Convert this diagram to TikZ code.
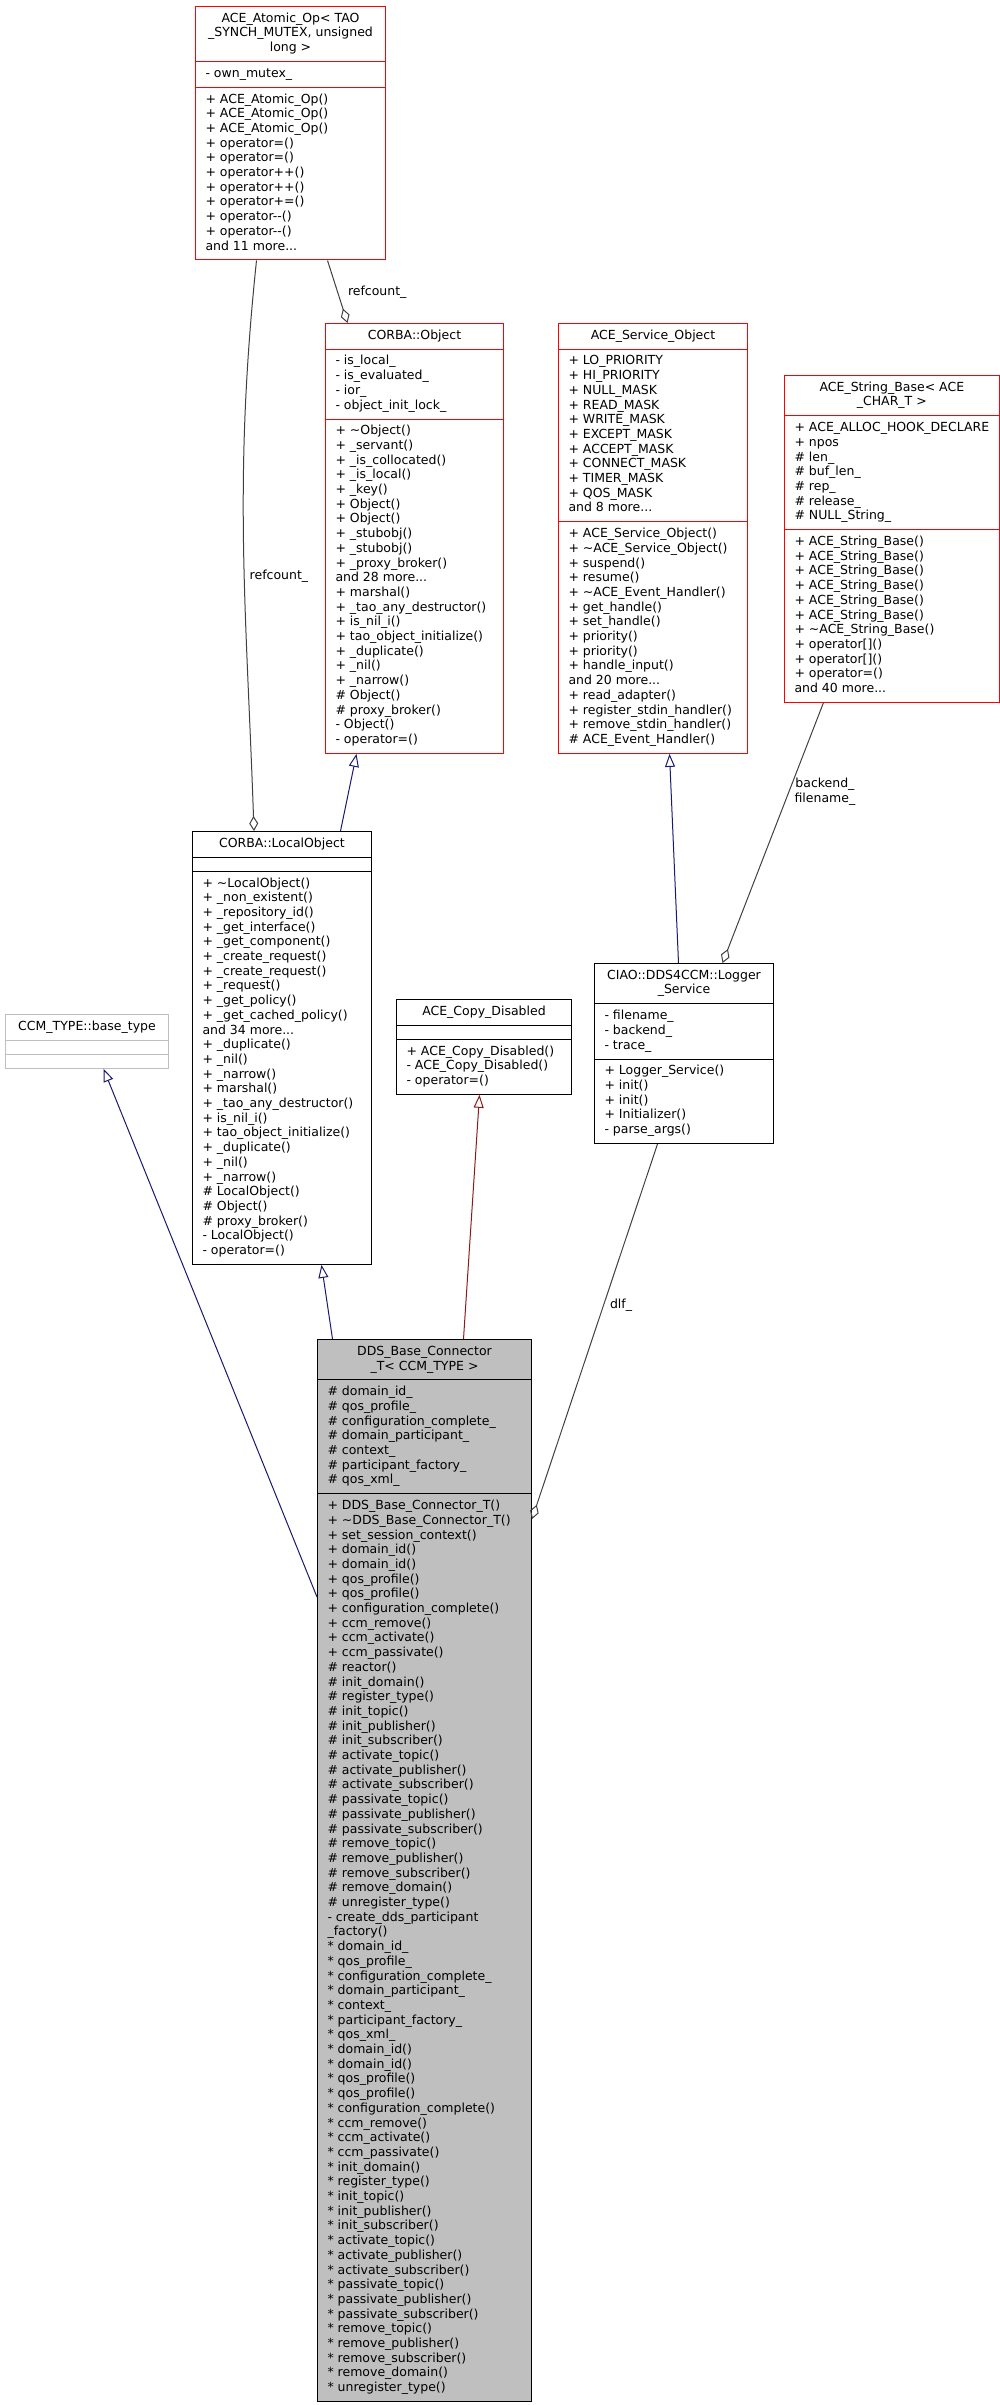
\documentclass[tikz,border=0pt]{standalone}
\usepackage{fontspec}
\setmainfont{DejaVu Sans}
\usepackage{xcolor}
\usepackage{tikz}
\usetikzlibrary{shapes.multipart,arrows.meta}
\definecolor{dxnavy}{HTML}{191970}
\definecolor{dxfire}{HTML}{8B1A1A}
\definecolor{dxgray}{HTML}{404040}
\definecolor{dxred}{HTML}{FF0000}
\definecolor{dxfill}{HTML}{BFBFBF}
\newcommand{\rows}[1]{\begin{tabular}{@{}l@{}}#1\end{tabular}}
\newcommand{\crows}[1]{\begin{tabular}{@{}c@{}}#1\end{tabular}}

\tikzset{
    cls/.style={rectangle split, rectangle split parts=3, draw=black, line width=1pt,
        inner xsep=10pt, inner ysep=5pt, anchor=north west,
        rectangle split part align={center,left,left},
        font=\fontsize{12.5}{14.7}\selectfont},
    trunc/.style={cls, draw=dxred},
    pub/.style={draw=dxnavy, line width=1pt, -{Triangle[open,length=13pt,width=10pt]}},
    priv/.style={pub, draw=dxfire},
    agg/.style={draw=dxgray, line width=1pt, -{Diamond[open,length=15pt,width=9pt]}},
    lbl/.style={inner sep=2pt, align=center, font=\fontsize{12.5}{14.7}\selectfont}
}

\begin{document}
\begin{tikzpicture}[x=1pt, y=1pt]
            \useasboundingbox (0,0) rectangle (1000,-2405);

            % Klassen.
            \node[trunc, minimum width=190pt] (atomic) at (195,-6)
                {\crows{ACE\_Atomic\_Op< TAO\\ \_SYNCH\_MUTEX, unsigned\\ long >}
                \nodepart{second}\rows{- own\_mutex\_}
                \nodepart{third}\rows{+ ACE\_Atomic\_Op()\\ + ACE\_Atomic\_Op()\\ + ACE\_Atomic\_Op()\\
                    + operator=()\\ + operator=()\\ + operator++()\\ + operator++()\\ + operator+=()\\
                    + operator-{}-()\\ + operator-{}-()\\ and 11 more...}};

            \node[trunc, minimum width=178pt] (cobj) at (325,-323)
                {\crows{CORBA::Object}
                \nodepart{second}\rows{- is\_local\_\\ - is\_evaluated\_\\ - ior\_\\ - object\_init\_lock\_}
                \nodepart{third}\rows{+ \textasciitilde Object()\\ + \_servant()\\ + \_is\_collocated()\\
                    + \_is\_local()\\ + \_key()\\ + Object()\\ + Object()\\ + \_stubobj()\\ + \_stubobj()\\
                    + \_proxy\_broker()\\ and 28 more...\\ + marshal()\\ + \_tao\_any\_destructor()\\
                    + is\_nil\_i()\\ + tao\_object\_initialize()\\ + \_duplicate()\\ + \_nil()\\
                    + \_narrow()\\ \# Object()\\ \# proxy\_broker()\\ - Object()\\ - operator=()}};

            \node[trunc, minimum width=189pt] (svc) at (558,-323)
                {\crows{ACE\_Service\_Object}
                \nodepart{second}\rows{+ LO\_PRIORITY\\ + HI\_PRIORITY\\ + NULL\_MASK\\ + READ\_MASK\\
                    + WRITE\_MASK\\ + EXCEPT\_MASK\\ + ACCEPT\_MASK\\ + CONNECT\_MASK\\ + TIMER\_MASK\\
                    + QOS\_MASK\\ and 8 more...}
                \nodepart{third}\rows{+ ACE\_Service\_Object()\\ + \textasciitilde ACE\_Service\_Object()\\
                    + suspend()\\ + resume()\\ + \textasciitilde ACE\_Event\_Handler()\\ + get\_handle()\\
                    + set\_handle()\\ + priority()\\ + priority()\\ + handle\_input()\\ and 20 more...\\
                    + read\_adapter()\\ + register\_stdin\_handler()\\ + remove\_stdin\_handler()\\
                    \# ACE\_Event\_Handler()}};

            \node[trunc, minimum width=213pt] (strb) at (784,-375)
                {\crows{ACE\_String\_Base< ACE\\ \_CHAR\_T >}
                \nodepart{second}\rows{+ ACE\_ALLOC\_HOOK\_DECLARE\\ + npos\\ \# len\_\\ \# buf\_len\_\\
                    \# rep\_\\ \# release\_\\ \# NULL\_String\_}
                \nodepart{third}\rows{+ ACE\_String\_Base()\\ + ACE\_String\_Base()\\ + ACE\_String\_Base()\\
                    + ACE\_String\_Base()\\ + ACE\_String\_Base()\\ + ACE\_String\_Base()\\
                    + \textasciitilde ACE\_String\_Base()\\ + operator[]()\\ + operator[]()\\
                    + operator=()\\ and 40 more...}};

            \node[cls, minimum width=179pt] (lobj) at (192,-831)
                {\crows{CORBA::LocalObject}
                \nodepart{second}\rows{}
                \nodepart{third}\rows{+ \textasciitilde LocalObject()\\ + \_non\_existent()\\
                    + \_repository\_id()\\ + \_get\_interface()\\ + \_get\_component()\\
                    + \_create\_request()\\ + \_create\_request()\\ + \_request()\\ + \_get\_policy()\\
                    + \_get\_cached\_policy()\\ and 34 more...\\ + \_duplicate()\\ + \_nil()\\
                    + \_narrow()\\ + marshal()\\ + \_tao\_any\_destructor()\\ + is\_nil\_i()\\
                    + tao\_object\_initialize()\\ + \_duplicate()\\ + \_nil()\\ + \_narrow()\\
                    \# LocalObject()\\ \# Object()\\ \# proxy\_broker()\\ - LocalObject()\\
                    - operator=()}};

            \node[cls, draw=dxfill, minimum width=163pt] (ccm) at (5,-1014)
                {\crows{CCM\_TYPE::base\_type}
                \nodepart{second}\rows{}
                \nodepart{third}\rows{}};

            \node[cls, minimum width=175pt] (copy) at (396,-999)
                {\crows{ACE\_Copy\_Disabled}
                \nodepart{second}\rows{}
                \nodepart{third}\rows{+ ACE\_Copy\_Disabled()\\ - ACE\_Copy\_Disabled()\\ - operator=()}};

            \node[cls, minimum width=179pt] (logger) at (594,-963)
                {\crows{CIAO::DDS4CCM::Logger\\ \_Service}
                \nodepart{second}\rows{- filename\_\\ - backend\_\\ - trace\_}
                \nodepart{third}\rows{+ Logger\_Service()\\ + init()\\ + init()\\ + Initializer()\\
                    - parse\_args()}};

            \node[cls, fill=dxfill, minimum width=214pt] (dds) at (317,-1339)
                {\crows{DDS\_Base\_Connector\\ \_T< CCM\_TYPE >}
                \nodepart{second}\rows{\# domain\_id\_\\ \# qos\_profile\_\\ \# configuration\_complete\_\\
                    \# domain\_participant\_\\ \# context\_\\ \# participant\_factory\_\\ \# qos\_xml\_}
                \nodepart{third}\rows{+ DDS\_Base\_Connector\_T()\\ + \textasciitilde DDS\_Base\_Connector\_T()\\
                    + set\_session\_context()\\ + domain\_id()\\ + domain\_id()\\ + qos\_profile()\\
                    + qos\_profile()\\ + configuration\_complete()\\ + ccm\_remove()\\ + ccm\_activate()\\
                    + ccm\_passivate()\\ \# reactor()\\ \# init\_domain()\\ \# register\_type()\\
                    \# init\_topic()\\ \# init\_publisher()\\ \# init\_subscriber()\\ \# activate\_topic()\\
                    \# activate\_publisher()\\ \# activate\_subscriber()\\ \# passivate\_topic()\\
                    \# passivate\_publisher()\\ \# passivate\_subscriber()\\ \# remove\_topic()\\
                    \# remove\_publisher()\\ \# remove\_subscriber()\\ \# remove\_domain()\\
                    \# unregister\_type()\\ - create\_dds\_participant\\ \_factory()\\
                    {*} domain\_id\_\\ {*} qos\_profile\_\\ {*} configuration\_complete\_\\
                    {*} domain\_participant\_\\ {*} context\_\\ {*} participant\_factory\_\\
                    {*} qos\_xml\_\\ {*} domain\_id()\\ {*} domain\_id()\\ {*} qos\_profile()\\
                    {*} qos\_profile()\\ {*} configuration\_complete()\\ {*} ccm\_remove()\\
                    {*} ccm\_activate()\\ {*} ccm\_passivate()\\ {*} init\_domain()\\ {*} register\_type()\\
                    {*} init\_topic()\\ {*} init\_publisher()\\ {*} init\_subscriber()\\
                    {*} activate\_topic()\\ {*} activate\_publisher()\\ {*} activate\_subscriber()\\
                    {*} passivate\_topic()\\ {*} passivate\_publisher()\\ {*} passivate\_subscriber()\\
                    {*} remove\_topic()\\ {*} remove\_publisher()\\ {*} remove\_subscriber()\\
                    {*} remove\_domain()\\ {*} unregister\_type()}};

            % Verbindungen.
            \draw[agg] ([xshift=-34pt]atomic.south) to[out=-96, in=92]
                node[lbl, pos=0.56, right=3pt] {refcount\_} ([xshift=-28pt]lobj.north);
            \draw[agg] ([xshift=37pt]atomic.south) --
                node[lbl, pos=0.5, right=8pt] {refcount\_} ([xshift=-67pt]cobj.north);
            \draw[pub] ([xshift=58.5pt]lobj.north) -- ([xshift=-58pt]cobj.south);
            \draw[pub] ([xshift=-5.5pt]logger.north) -- ([xshift=16.5pt]svc.south);
            \draw[agg] ([xshift=-68.5pt]strb.south) --
                node[lbl, pos=0.34, right=3pt] {backend\_\\filename\_} ([xshift=38.5pt]logger.north);
            \draw[pub] ([yshift=-258pt]dds.north west) -- ([xshift=16.5pt]ccm.south);
            \draw[pub] ([xshift=-92pt]dds.north) -- ([xshift=39.5pt]lobj.south);
            \draw[priv] ([xshift=39pt]dds.north) -- ([xshift=-4.5pt]copy.south);
            \draw[agg] ([xshift=-26.5pt]logger.south) --
                node[lbl, pos=0.43, right=4pt] {dlf\_} ([yshift=-180pt]dds.north east);
\end{tikzpicture}
\end{document}
